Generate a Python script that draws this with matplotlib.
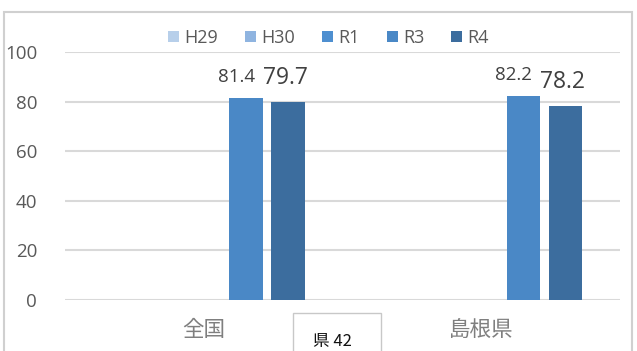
import numpy as np
import matplotlib.pyplot as plt
from matplotlib.patches import Rectangle

plt.rcParams['font.family'] = ['Open Sans', 'Noto Sans CJK JP', 'DejaVu Sans']

categories = ['全国', '島根県']
series = ['H29', 'H30', 'R1', 'R3', 'R4']
values = {
    'H29': [np.nan, np.nan],
    'H30': [np.nan, np.nan],
    'R1': [np.nan, np.nan],
    'R3': [81.4, 82.2],
    'R4': [79.7, 78.2],
}
colors = ['#b7cfea', '#8fb4e0', '#4e8fd0', '#4a88c6', '#3c6d9e']
label_sizes = {'R3': 13.5, 'R4': 16.5}
label_shift = {'R3': -0.035, 'R4': -0.01}

fig = plt.figure(figsize=(6.37, 3.51), dpi=100)
ax = fig.add_axes([0.102, 0.1453, 0.871, 0.7066])

x = np.arange(len(categories))
w = 0.152
for i, (name, col) in enumerate(zip(series, colors)):
    pos = x + (i - 2) * w
    vals = values[name]
    ax.bar(pos, vals, width=w * 0.79, color=col, label=name, zorder=3)
    for p, v in zip(pos, vals):
        if not np.isnan(v):
            ax.text(p + label_shift[name], v + 5, f'{v:.1f}', ha='center',
                    va='bottom', fontsize=label_sizes[name], color='#404040')

ax.set_xlim(-0.5, 1.5)
ax.set_ylim(0, 100)
ax.set_yticks(range(0, 101, 20))
ax.grid(axis='y', color='#d9d9d9', linewidth=1.5, zorder=0)
ax.set_xticks(x)
ax.set_xticklabels(categories, fontsize=15.5, color='#7f7f7f',
                   family=['Noto Sans CJK JP'])
ax.tick_params(axis='y', labelsize=13.5, labelcolor='#595959', length=0, pad=20)
ax.tick_params(axis='x', length=0, pad=14)
for s in ax.spines.values():
    s.set_visible(False)

ax.legend(loc='lower center', bbox_to_anchor=(0.475, 0.985), ncol=5, frameon=False,
          fontsize=13, labelcolor='#595959', handlelength=0.6, handleheight=0.6,
          handletextpad=0.3, columnspacing=1.5, borderaxespad=0.1)

# outer chart frame
fig.patches.append(Rectangle((4 / 637, -0.1), 628 / 637, 1.1 - 12 / 351,
                             transform=fig.transFigure, fill=False,
                             edgecolor='#d0d0d0', linewidth=1.5))

# overlapping box at the bottom
fig.patches.append(Rectangle((293 / 637, -0.1), 88 / 637, 0.1 + 38 / 351,
                             transform=fig.transFigure, facecolor='white',
                             edgecolor='#c8c8c8', linewidth=1.0, zorder=5))
fig.text(332 / 637, 1 / 351, '県 42', ha='center', va='bottom', fontsize=12,
         color='#111111', family=['Noto Sans CJK JP'], zorder=6)

fig.savefig('out.png', dpi=100)
